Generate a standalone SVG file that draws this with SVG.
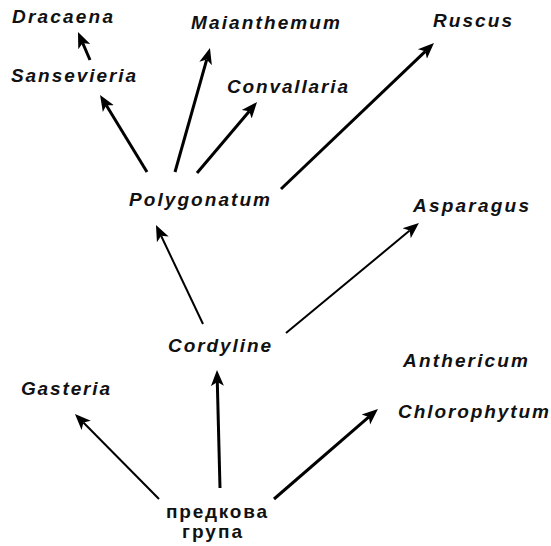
<svg xmlns="http://www.w3.org/2000/svg" width="551" height="546" viewBox="0 0 551 546">
<defs>
<style>
.lbl{font-family:"Liberation Sans",Arial,sans-serif;font-size:19px;font-weight:bold;font-style:italic;fill:#111}
.root{font-family:"Liberation Sans",Arial,sans-serif;font-size:19px;font-weight:bold;fill:#111}
.thick{stroke:#000;stroke-width:3;fill:none;marker-end:url(#ah)}
.thin{stroke:#000;stroke-width:2;fill:none;marker-end:url(#ah)}
</style>
<marker id="ah" markerUnits="userSpaceOnUse" markerWidth="20" markerHeight="16" viewBox="-4 -8 20 16" refX="0" refY="0" orient="auto">
<path d="M12,0 L-4,-6.5 L0,0 L-4,6.5 Z" fill="#000"/>
</marker>
</defs>
<rect width="551" height="546" fill="#fff"/>
<g id="connectors">
<line class="thick" x1="90" y1="60" x2="82.7" y2="43"/>
<line class="thick" x1="147" y1="172" x2="106.3" y2="105.2"/>
<line class="thick" x1="175" y1="172" x2="206.7" y2="59.6"/>
<line class="thick" x1="197" y1="173" x2="249.3" y2="111.2"/>
<line class="thick" x1="281" y1="189" x2="425.3" y2="51.3"/>
<line class="thin" x1="203" y1="324" x2="161.1" y2="235.8"/>
<line class="thin" x1="286" y1="333" x2="409.7" y2="230.6"/>
<line class="thick" x1="220" y1="488" x2="217.3" y2="382"/>
<line class="thin" x1="159" y1="499" x2="83.4" y2="422.5"/>
<line class="thick" x1="274" y1="499" x2="368.9" y2="416.9"/>
</g>
<g id="dracaena"><text class="lbl" x="12" y="23" textLength="101" lengthAdjust="spacing">Dracaena</text></g>
<g id="sansevieria"><text class="lbl" x="11" y="82" textLength="125" lengthAdjust="spacing">Sansevieria</text></g>
<g id="maianthemum"><text class="lbl" x="191" y="29" textLength="149" lengthAdjust="spacing">Maianthemum</text></g>
<g id="ruscus"><text class="lbl" x="433" y="27" textLength="79" lengthAdjust="spacing">Ruscus</text></g>
<g id="convallaria"><text class="lbl" x="227" y="93" textLength="121" lengthAdjust="spacing">Convallaria</text></g>
<g id="polygonatum"><text class="lbl" x="129" y="206" textLength="141" lengthAdjust="spacing">Polygonatum</text></g>
<g id="asparagus"><text class="lbl" x="413" y="212" textLength="116" lengthAdjust="spacing">Asparagus</text></g>
<g id="cordyline"><text class="lbl" x="168" y="352" textLength="103" lengthAdjust="spacing">Cordyline</text></g>
<g id="anthericum"><text class="lbl" x="403" y="367" textLength="125" lengthAdjust="spacing">Anthericum</text></g>
<g id="chlorophytum"><text class="lbl" x="398" y="418" textLength="151" lengthAdjust="spacing">Chlorophytum</text></g>
<g id="gasteria"><text class="lbl" x="21" y="395" textLength="89" lengthAdjust="spacing">Gasteria</text></g>
<g id="ancestral">
<text class="root" x="166" y="518" textLength="101" lengthAdjust="spacing">предкова</text>
<text class="root" x="182" y="538" textLength="60" lengthAdjust="spacing">група</text>
</g>
</svg>
